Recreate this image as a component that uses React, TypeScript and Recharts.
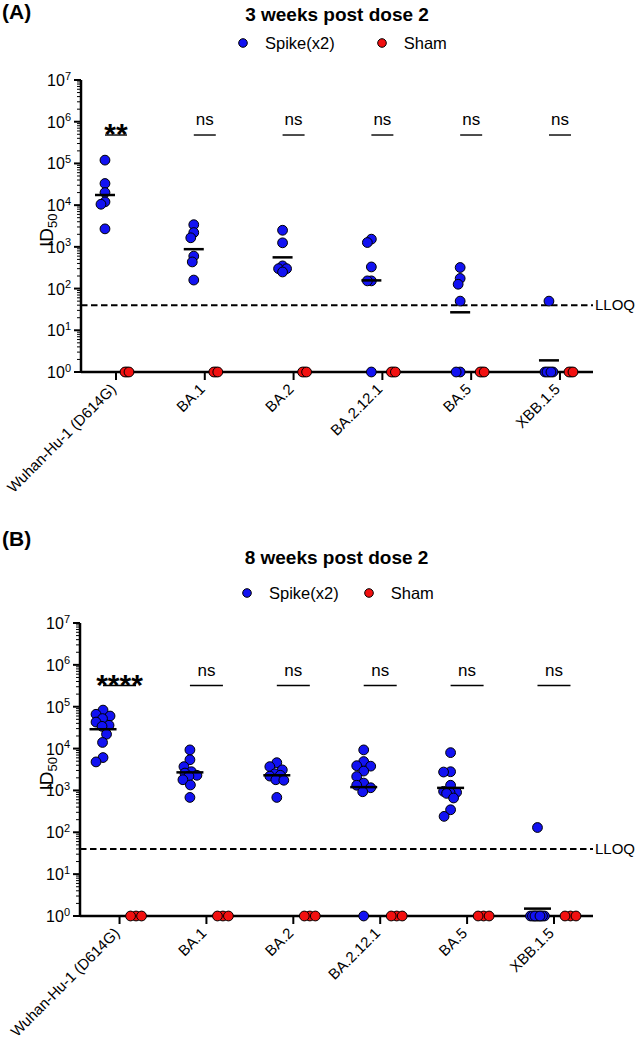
import React from "react";
import { ScatterChart, Scatter, XAxis, YAxis, ReferenceLine, Legend } from "recharts";

const FONT = '"Liberation Sans", Arial, Helvetica, sans-serif';
const BLUE = "#1212f2";
const RED = "#f21010";

const variants = ["Wuhan-Hu-1 (D614G)", "BA.1", "BA.2", "BA.2.12.1", "BA.5", "XBB.1.5"];
const seriesNames = ["Spike(x2)", "Sham"];
const decades = [1, 10, 100, 1e3, 1e4, 1e5, 1e6, 1e7];
const LLOQ = 40;

// (A) 3 weeks post dose 2 - ID50 per animal
const spike3wk = [
  [1.2e5, 3.3e4, 2.0e4, 1.2e4, 1.05e4, 2.7e3],
  [3.4e3, 2.2e3, 1.65e3, 600, 435, 160],
  [2500, 1250, 350, 300, 300, 250],
  [1530, 1270, 330, 153, 153, 1],
  [320, 175, 127, 50, 1, 1],
  [50, 1, 1, 1, 1, 1],
];
const sham3wk = [
  [1, 1, 1], [1, 1, 1], [1, 1, 1], [1, 1, 1], [1, 1, 1], [1, 1, 1],
];
const gmt3wk = [1.75e4, 880, 560, 157, 27, 1.9];
const sig3wk = ["**", "ns", "ns", "ns", "ns", "ns"];

// (B) 8 weeks post dose 2
const spike8wk = [
  [8.3e4, 6.6e4, 6.0e4, 5.2e4, 4.3e4, 3.6e4, 3.4e4, 2.2e4, 1.4e4, 6.1e3, 4.8e3],
  [9.3e3, 5.4e3, 3.7e3, 2.8e3, 2.6e3, 2.3e3, 2.2e3, 1.8e3, 1.35e3, 680],
  [4.6e3, 3.7e3, 3.1e3, 2.5e3, 2.3e3, 2.2e3, 1.8e3, 1.75e3, 680],
  [9.3e3, 4.9e3, 3.9e3, 3.8e3, 2.9e3, 2.15e3, 1.5e3, 1.33e3, 1.16e3, 930, 1],
  [8.0e3, 2.8e3, 2.75e3, 1.33e3, 950, 900, 880, 850, 660, 345, 240],
  [130, 1, 1, 1, 1, 1, 1, 1, 1, 1, 1, 1],
];
const sham8wk = [
  [1, 1, 1], [1, 1, 1], [1, 1, 1], [1, 1, 1], [1, 1, 1], [1, 1, 1],
];
const gmt8wk = [2.9e4, 2.7e3, 2.3e3, 1.2e3, 1.15e3, 1.5];
const sig8wk = ["****", "ns", "ns", "ns", "ns", "ns"];

const yTicks: number[] = [];
decades.forEach((d, i) => {
  if (i === decades.length - 1) {
    yTicks.push(d);
    return;
  }
  for (let m = 1; m <= 9; m++) yTicks.push(m * d);
});

interface Panel {
  tag: string;
  title: string;
  spike: number[][];
  sham: number[][];
  gmt: number[];
  sig: string[];
  height: number;
  plotTop: number;
  plotBottom: number;
  axisX: number;
  xDomain: [number, number];
  pxUnit: number;
  pxDec: number;
  side: number;
  blueSwarm: [number, number];
  redSwarm: [number, number];
  meanW: number;
  sigW: number;
  sigY: number;
  tagY: number;
  titleY: number;
  legendY: number;
  legendLeft: number;
  legendGap: number;
}

const panels: Panel[] = [
  {
    tag: "(A)", title: "3 weeks post dose 2",
    spike: spike3wk, sham: sham3wk, gmt: gmt3wk, sig: sig3wk,
    height: 522, plotTop: 80, plotBottom: 372, axisX: 81,
    xDomain: [-0.394, 5.372], pxUnit: 88.8, pxDec: 41.7, side: 0.124,
    blueSwarm: [6, 4], redSwarm: [2, 2], meanW: 20, sigW: 22, sigY: 4.8e5,
    tagY: 12, titleY: 15, legendY: 43, legendLeft: 238, legendGap: 42,
  },
  {
    tag: "(B)", title: "8 weeks post dose 2",
    spike: spike8wk, sham: sham8wk, gmt: gmt8wk, sig: sig8wk,
    height: 523, plotTop: 101, plotBottom: 394, axisX: 80,
    xDomain: [-0.455, 5.449], pxUnit: 86.9, pxDec: 41.9, side: 0.19,
    blueSwarm: [9, 7], redSwarm: [5.5, 6], meanW: 27, sigW: 33, sigY: 3.2e5,
    tagY: 17, titleY: 36, legendY: 71, legendLeft: 242, legendGap: 25,
  },
];

// simple beeswarm: push overlapping points sideways (in px), return x offsets
function swarm(values: number[], pxDec: number, minDist: number, maxOff: number) {
  const placed: { dx: number; py: number }[] = [];
  return values.map((v) => {
    const py = Math.log10(v) * pxDec;
    let best = 0;
    let bestScore = -1;
    for (let k = 0; k <= maxOff * 4; k++) {
      const dx = (k % 2 === 0 ? 1 : -1) * Math.ceil(k / 2) * 0.5;
      let md = Infinity;
      placed.forEach((p) => {
        md = Math.min(md, Math.hypot(p.dx - dx, p.py - py));
      });
      if (md >= minDist) {
        best = dx;
        bestScore = md;
        break;
      }
      if (md > bestScore) {
        bestScore = md;
        best = dx;
      }
    }
    placed.push({ dx: best, py });
    return best;
  });
}

function points(groups: number[][], side: number, p: Panel, sw: [number, number]) {
  const out: { x: number; y: number }[] = [];
  groups.forEach((vals, ci) => {
    const offs = swarm(vals, p.pxDec, sw[0], sw[1]);
    vals.forEach((v, j) => out.push({ x: ci + side + offs[j] / p.pxUnit, y: v }));
  });
  return out;
}

const dot = (fill: string) => (props: any) => (
  <circle cx={props.cx} cy={props.cy} r={4.9} fill={fill} stroke="#000" strokeWidth={1} />
);

const YTick = (props: any) => {
  const { x, y, payload } = props;
  const lg = Math.log10(payload.value);
  const exp = Math.round(lg);
  if (Math.abs(lg - exp) > 1e-6) {
    return <line x1={x} x2={x - 4} y1={y} y2={y} stroke="#000" strokeWidth={1} />;
  }
  return (
    <g>
      <line x1={x} x2={x - 7} y1={y} y2={y} stroke="#000" strokeWidth={2} />
      <text x={x - 10} y={y + 6} textAnchor="end" fontSize={16} fill="#000">
        10
        <tspan dy={-6.5} fontSize={11}>{exp}</tspan>
      </text>
    </g>
  );
};

const XTick = (props: any) => {
  const { x, y, payload } = props;
  return (
    <g>
      <line x1={x} x2={x} y1={y} y2={y + 8} stroke="#000" strokeWidth={2} />
      <text
        transform={`translate(${x + 1},${y + 18}) rotate(-45)`}
        textAnchor="end"
        fontSize={15}
        fill="#000"
      >
        {variants[payload.value]}
      </text>
    </g>
  );
};

const YTitle = (props: any) => {
  const vb = props.viewBox;
  const cy = vb.y + vb.height * (1 - 3.4 / 7);
  return (
    <text transform={`translate(${53},${cy}) rotate(-90)`} textAnchor="middle" fontSize={19} fill="#000">
      ID<tspan dy={4} fontSize={13}>50</tspan>
    </text>
  );
};

const LegendBox = (left: number, gap: number) => (props: any) => {
  const items = seriesNames
    .map((n) => (props.payload || []).find((it: any) => it.value === n))
    .filter(Boolean);
  return (
    <div style={{ position: "absolute", left, top: 0, height: 20, display: "flex", alignItems: "center", fontSize: 16.5 }}>
      {items.map((it: any, i: number) => (
        <div key={it.value} style={{ display: "flex", alignItems: "center", marginLeft: i ? gap : 0 }}>
          <svg width={10} height={10}>
            <circle cx={5} cy={5} r={4.3} fill={it.color} stroke="#000" strokeWidth={1} />
          </svg>
          <span style={{ marginLeft: 17, lineHeight: "20px" }}>{it.value}</span>
        </div>
      ))}
    </div>
  );
};

function PanelChart({ p }: { p: Panel }) {
  const blue = points(p.spike, -p.side, p, p.blueSwarm);
  const red = points(p.sham, p.side, p, p.redSwarm);
  const means = p.gmt.map((g, i) => ({ x: i - p.side, y: g }));
  const sigs = p.sig.map((s, i) => ({ x: i, y: p.sigY, label: s }));
  const right = 636 - 593;

  return (
    <div style={{ position: "relative", width: 636, height: p.height }}>
      <ScatterChart
        width={636}
        height={p.height}
        margin={{ top: p.plotTop, right, bottom: 0, left: 0 }}
      >
        <XAxis
          type="number"
          dataKey="x"
          domain={p.xDomain}
          ticks={[0, 1, 2, 3, 4, 5]}
          interval={0}
          height={p.height - p.plotBottom}
          tickSize={0}
          tickMargin={0}
          tickLine={false}
          tick={<XTick />}
          axisLine={{ stroke: "#000", strokeWidth: 2.5 }}
        />
        <YAxis
          type="number"
          dataKey="y"
          scale="log"
          domain={[1, 1e7]}
          ticks={yTicks}
          interval={0}
          width={p.axisX}
          tickSize={0}
          tickMargin={0}
          tickLine={false}
          tick={<YTick />}
          axisLine={{ stroke: "#000", strokeWidth: 2.5 }}
          label={<YTitle />}
        />
        <ReferenceLine
          y={LLOQ}
          stroke="#000"
          strokeWidth={2}
          strokeDasharray="6.5 3.5"
          label={{ value: "LLOQ", position: "right", offset: 2, fill: "#000", fontSize: 15 }}
        />
        <Scatter
          name="sig"
          data={sigs}
          legendType="none"
          isAnimationActive={false}
          shape={(s: any) => {
            const star = s.payload.label !== "ns";
            return (
              <g>
                <line x1={s.cx - p.sigW / 2} x2={s.cx + p.sigW / 2} y1={s.cy} y2={s.cy} stroke="#000" strokeWidth={1.4} />
                <text
                  x={s.cx}
                  y={star ? s.cy + 9 : s.cy - 10}
                  textAnchor="middle"
                  fontSize={star ? 30 : 17}
                  fontWeight={star ? "bold" : "normal"}
                  fill="#000"
                >
                  {s.payload.label}
                </text>
              </g>
            );
          }}
        />
        <Scatter name="Spike(x2)" data={blue} fill={BLUE} shape={dot(BLUE)} isAnimationActive={false} />
        <Scatter name="Sham" data={red} fill={RED} shape={dot(RED)} isAnimationActive={false} />
        <Scatter
          name="mean"
          data={means}
          legendType="none"
          isAnimationActive={false}
          shape={(s: any) => (
            <line x1={s.cx - p.meanW / 2} x2={s.cx + p.meanW / 2} y1={s.cy} y2={s.cy} stroke="#000" strokeWidth={2.5} />
          )}
        />
        <Legend
          layout="horizontal"
          verticalAlign="middle"
          align="center"
          wrapperStyle={{ top: p.legendY - 10, left: 0, width: 636, height: 20 }}
          content={LegendBox(p.legendLeft, p.legendGap)}
        />
      </ScatterChart>
      <div style={{ position: "absolute", left: 2, top: p.tagY - 12, fontSize: 21, fontWeight: "bold", lineHeight: "24px" }}>
        {p.tag}
      </div>
      <div
        style={{
          position: "absolute",
          left: p.axisX,
          width: 593 - p.axisX,
          top: p.titleY - 11,
          textAlign: "center",
          fontSize: 19,
          fontWeight: "bold",
          lineHeight: "22px",
        }}
      >
        {p.title}
      </div>
    </div>
  );
}

export default function App() {
  return (
    <div style={{ position: "absolute", left: 0, top: 0, width: 636, height: 1045, background: "#fff", fontFamily: FONT, color: "#000" }}>
      {panels.map((p) => (
        <PanelChart key={p.tag} p={p} />
      ))}
    </div>
  );
}
